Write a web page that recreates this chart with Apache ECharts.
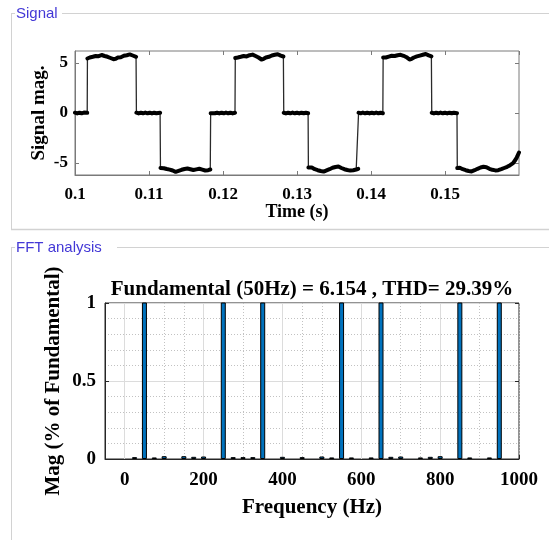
<!DOCTYPE html>
<html>
<head>
<meta charset="utf-8">
<script src="https://cdn.jsdelivr.net/npm/echarts@6/dist/echarts.min.js"></script>
<style>
  html, body { margin: 0; padding: 0; background: #ffffff; }
  #chart { width: 549px; height: 540px; }
</style>
</head>
<body>
<div id="chart"></div>
<script>
// ---- Signal trace: three-level inverter output, one [time (s), magnitude] list per plateau ----
const signalSegments = [
  [[0.1000, 0.03], [0.1003, -0.04], [0.1006, 0.03], [0.1009, -0.03], [0.1012, 0.04], [0.1014, -0.03], [0.10165, 0.02]],
  [[0.10168, 5.45], [0.1020, 5.55], [0.1022, 5.50], [0.1024, 5.62], [0.1026, 5.58], [0.1028, 5.70], [0.1030, 5.64],
   [0.1032, 5.68], [0.1034, 5.74], [0.1036, 5.80], [0.1038, 5.74], [0.1040, 5.70], [0.1042, 5.66], [0.1044, 5.62],
   [0.1046, 5.56], [0.1048, 5.50], [0.1050, 5.44], [0.1052, 5.38], [0.1054, 5.48], [0.1055, 5.42], [0.1057, 5.52],
   [0.1058, 5.55], [0.1060, 5.62], [0.1062, 5.58], [0.1064, 5.68], [0.1066, 5.72], [0.1068, 5.70], [0.1070, 5.78],
   [0.1072, 5.76], [0.1074, 5.86], [0.1076, 5.80], [0.1078, 5.75], [0.1080, 5.68], [0.10825, 5.62]],
  [[0.10830, 0.03], [0.1086, -0.04], [0.1089, 0.03], [0.1092, -0.03], [0.1095, 0.04], [0.1098, -0.03], [0.1101, 0.03],
   [0.1104, -0.04], [0.1107, 0.03], [0.1110, -0.03], [0.11150, 0.02]],
  [[0.11155, -5.50], [0.1118, -5.46], [0.1120, -5.52], [0.1122, -5.56], [0.1124, -5.60], [0.1126, -5.58],
   [0.1128, -5.66], [0.1130, -5.70], [0.1132, -5.75], [0.1134, -5.82], [0.1136, -5.88], [0.1138, -5.80],
   [0.1140, -5.78], [0.1142, -5.70], [0.1144, -5.68], [0.1146, -5.62], [0.1148, -5.60], [0.1150, -5.52],
   [0.1152, -5.55], [0.1154, -5.58], [0.1156, -5.62], [0.1158, -5.66], [0.1160, -5.70], [0.1162, -5.68],
   [0.1164, -5.64], [0.1166, -5.60], [0.1168, -5.58], [0.1170, -5.62], [0.1172, -5.66], [0.1174, -5.70],
   [0.1176, -5.75], [0.1178, -5.76], [0.1180, -5.72], [0.11828, -5.65]],
  [[0.11833, -0.03], [0.1186, 0.04], [0.1189, -0.03], [0.1192, 0.03], [0.1195, -0.04], [0.1198, 0.03], [0.1201, -0.03],
   [0.1204, 0.04], [0.1207, -0.03], [0.1210, 0.03], [0.1213, -0.04], [0.12162, 0.02]],
  [[0.12166, 5.50], [0.1218, 5.48], [0.1220, 5.55], [0.1222, 5.58], [0.1224, 5.62], [0.1226, 5.66], [0.1228, 5.70],
   [0.1230, 5.64], [0.1232, 5.66], [0.1234, 5.72], [0.1236, 5.78], [0.1238, 5.82], [0.1240, 5.84], [0.1242, 5.76],
   [0.1244, 5.70], [0.1246, 5.62], [0.1248, 5.55], [0.1250, 5.44], [0.1252, 5.35], [0.1254, 5.46], [0.1255, 5.42],
   [0.1257, 5.52], [0.1258, 5.55], [0.1260, 5.58], [0.1262, 5.62], [0.1264, 5.70], [0.1266, 5.75], [0.1268, 5.78],
   [0.1270, 5.82], [0.1272, 5.84], [0.1274, 5.88], [0.1276, 5.82], [0.1278, 5.74], [0.1280, 5.70], [0.12816, 5.65]],
  [[0.12821, 0.02], [0.1285, -0.04], [0.1288, 0.03], [0.1291, -0.03], [0.1294, 0.04], [0.1297, -0.03], [0.1300, 0.03],
   [0.1303, -0.04], [0.1306, 0.03], [0.1309, -0.03], [0.1312, 0.03], [0.13150, -0.02]],
  [[0.13154, -5.45], [0.1318, -5.42], [0.1320, -5.45], [0.1322, -5.55], [0.1324, -5.62], [0.1326, -5.66],
   [0.1328, -5.72], [0.1330, -5.76], [0.1332, -5.80], [0.1334, -5.84], [0.1336, -5.86], [0.1338, -5.80],
   [0.1340, -5.74], [0.1342, -5.68], [0.1344, -5.62], [0.1346, -5.54], [0.1348, -5.48], [0.1350, -5.44],
   [0.1352, -5.40], [0.1354, -5.44], [0.1356, -5.35], [0.1358, -5.42], [0.1360, -5.50], [0.1362, -5.56],
   [0.1364, -5.62], [0.1366, -5.66], [0.1368, -5.70], [0.1370, -5.74], [0.1372, -5.76], [0.1374, -5.74],
   [0.1376, -5.72], [0.1378, -5.70], [0.1380, -5.65], [0.13827, -5.58]],
  [[0.13832, 0.03], [0.1386, -0.03], [0.1389, 0.04], [0.1392, -0.03], [0.1395, 0.03], [0.1398, -0.04], [0.1401, 0.03],
   [0.1404, -0.03], [0.1407, 0.04], [0.1410, -0.03], [0.1413, 0.03], [0.14160, -0.02]],
  [[0.14164, 5.55], [0.1418, 5.50], [0.1420, 5.55], [0.1422, 5.60], [0.1424, 5.64], [0.1426, 5.68], [0.1428, 5.72],
   [0.1430, 5.66], [0.1432, 5.70], [0.1434, 5.76], [0.1436, 5.78], [0.1438, 5.84], [0.1440, 5.82], [0.1442, 5.78],
   [0.1444, 5.72], [0.1446, 5.64], [0.1448, 5.58], [0.1450, 5.46], [0.1452, 5.35], [0.1454, 5.46], [0.1455, 5.42],
   [0.1457, 5.50], [0.1458, 5.55], [0.1460, 5.60], [0.1462, 5.66], [0.1464, 5.70], [0.1466, 5.74], [0.1468, 5.78],
   [0.1470, 5.82], [0.1472, 5.86], [0.1474, 5.90], [0.1476, 5.84], [0.1478, 5.76], [0.1480, 5.70], [0.14816, 5.66]],
  [[0.14821, 0.02], [0.1485, -0.04], [0.1488, 0.03], [0.1491, -0.03], [0.1494, 0.04], [0.1497, -0.03], [0.1500, 0.03],
   [0.1503, -0.04], [0.1506, 0.03], [0.1509, -0.03], [0.1512, 0.03], [0.15162, -0.02]],
  [[0.15166, -5.50], [0.1518, -5.44], [0.1520, -5.48], [0.1522, -5.56], [0.1524, -5.62], [0.1526, -5.66],
   [0.1528, -5.72], [0.1530, -5.76], [0.1532, -5.80], [0.1534, -5.84], [0.1536, -5.84], [0.1538, -5.78],
   [0.1540, -5.72], [0.1542, -5.64], [0.1544, -5.58], [0.1546, -5.50], [0.1548, -5.45], [0.1550, -5.40],
   [0.1552, -5.38], [0.1554, -5.36], [0.1556, -5.42], [0.1558, -5.50], [0.1560, -5.58], [0.1562, -5.64],
   [0.1564, -5.68], [0.1566, -5.72], [0.1568, -5.74], [0.1570, -5.74], [0.1572, -5.72], [0.1574, -5.68],
   [0.1576, -5.62], [0.1578, -5.56], [0.1580, -5.50], [0.1582, -5.44], [0.1584, -5.38], [0.1586, -5.30],
   [0.1588, -5.22], [0.1590, -5.12], [0.1592, -5.02], [0.1594, -4.84], [0.1595, -4.70], [0.1597, -4.44],
   [0.1598, -4.25], [0.1600, -3.95]]
];

// ---- Spectrum: frequency bins (Hz) and magnitude relative to the fundamental ----
const fftFreq = [25, 50, 75, 100, 150, 175, 200, 250, 275, 300, 325, 350,
                 400, 450, 500, 525, 550, 575, 625, 650, 675, 700, 750, 775, 800, 850, 875, 925, 950];
const fftMag  = [0.012, 100, 0.010, 0.018, 0.018, 0.014, 0.016, 19.8, 0.012, 0.012, 0.012, 14.2,
                 0.014, 0.012, 0.016, 0.010, 9.0, 0.010, 0.010, 7.6, 0.014, 0.016, 0.010, 0.014, 0.018, 5.8, 0.010, 0.010, 5.2];

// ---- Tick labels ----
const signalTimeTicks = [0.1, 0.11, 0.12, 0.13, 0.14, 0.15];
const signalMagTicks = [-5, 0, 5];
const fftFreqTicks = [0, 200, 400, 600, 800, 1000];
const fftMagTicks = [0, 0.5, 1];

// ---- Text ----
const signalPanelTitle = 'Signal';
const fftPanelTitle = 'FFT analysis';
const fftTitle = 'Fundamental (50Hz) = 6.154 , THD= 29.39%';

const serif = 'Liberation Serif';
const sans = 'Liberation Sans';
const boldText = { fontFamily: serif, fontWeight: 'bold', color: '#000000' };

// Continuous trace for the switching edges, and a broken one for the noisy plateaus.
const traceAll = [];
const tracePlateaus = [];
signalSegments.forEach((seg, i) => {
  seg.forEach(p => { traceAll.push(p); tracePlateaus.push(p); });
  if (i < signalSegments.length - 1) tracePlateaus.push('-');
});

const spectrum = fftFreq.map((f, i) => [f, fftMag[i]]);
// Solid major grid lines on the labelled frequencies inside the plot box
const fftMajorGrid = fftFreqTicks.filter(f => f < 1000).map(f => ({ xAxis: f }));

const panelLine = '#d2d2d2';
const sigAxis = '#7a7a7a';
const fftAxis = '#262626';
const chart = echarts.init(document.getElementById('chart'), null, { renderer: 'canvas' });

chart.setOption({
  animation: false,
  backgroundColor: '#ffffff',
  grid: [
    { left: 75, top: 51, width: 444, height: 124, show: true, borderColor: sigAxis, borderWidth: 1 },
    { left: 105, top: 303, width: 414, height: 156, show: true, borderColor: fftAxis, borderWidth: 1 }
  ],
  xAxis: [
    { // signal time axis
      gridIndex: 0, type: 'value', position: 'bottom', min: 0.1, max: 0.16, interval: 0.01,
      axisLine: { onZero: false, lineStyle: { color: sigAxis } },
      axisTick: { inside: true, length: 4, lineStyle: { color: sigAxis } },
      axisLabel: Object.assign({ fontSize: 17, margin: 11, showMaxLabel: false,
        formatter: v => signalTimeTicks.find(t => Math.abs(t - v) < 1e-6) !== undefined ? String(+v.toFixed(2)) : '' }, boldText),
      splitLine: { show: false },
      name: 'Time (s)', nameLocation: 'middle', nameGap: 28, nameMoveOverlap: false,
      nameTextStyle: Object.assign({ fontSize: 18 }, boldText)
    },
    { // signal top edge ticks
      gridIndex: 0, type: 'value', position: 'top', min: 0.1, max: 0.16, interval: 0.01,
      axisLine: { show: false, onZero: false },
      axisTick: { inside: true, length: 4, lineStyle: { color: sigAxis } },
      axisLabel: { show: false }, splitLine: { show: false }
    },
    { // spectrum minor grid every 50 Hz
      gridIndex: 1, type: 'value', position: 'bottom', min: -50, max: 1000, interval: 50,
      axisLine: { show: false, onZero: false }, axisTick: { show: false }, axisLabel: { show: false },
      splitLine: { show: true, lineStyle: { color: '#c2c2c2', type: [1, 2], width: 1 } }
    },
    { // spectrum frequency axis
      gridIndex: 1, type: 'value', position: 'bottom', min: -50, max: 1000,
      axisLine: { onZero: false, lineStyle: { color: fftAxis } },
      axisTick: { inside: true, length: 4, customValues: fftFreqTicks, lineStyle: { color: fftAxis } },
      axisLabel: Object.assign({ fontSize: 19, margin: 12, customValues: fftFreqTicks, formatter: v => String(v) }, boldText),
      splitLine: { show: false },
      name: 'Frequency (Hz)', nameLocation: 'middle', nameGap: 38, nameMoveOverlap: false,
      nameTextStyle: Object.assign({ fontSize: 21 }, boldText)
    }
  ],
  yAxis: [
    { // signal magnitude axis
      gridIndex: 0, type: 'value', position: 'left', min: -6.2, max: 6.2,
      axisLine: { onZero: false, lineStyle: { color: sigAxis } },
      axisTick: { inside: true, length: 4, customValues: signalMagTicks, lineStyle: { color: sigAxis } },
      axisLabel: Object.assign({ fontSize: 17, margin: 7, customValues: signalMagTicks }, boldText),
      splitLine: { show: false },
      name: 'Signal mag.', nameLocation: 'middle', nameGap: 26, nameMoveOverlap: false,
      nameTextStyle: Object.assign({ fontSize: 19 }, boldText)
    },
    { // signal right edge ticks
      gridIndex: 0, type: 'value', position: 'right', min: -6.2, max: 6.2,
      axisLine: { show: false, onZero: false },
      axisTick: { inside: true, length: 4, customValues: signalMagTicks, lineStyle: { color: sigAxis } },
      axisLabel: { show: false }, splitLine: { show: false }
    },
    { // spectrum magnitude axis
      gridIndex: 1, type: 'value', position: 'left', min: 0, max: 1, interval: 0.5,
      axisLine: { onZero: false, lineStyle: { color: fftAxis } },
      axisTick: { inside: true, length: 4, lineStyle: { color: fftAxis } },
      axisLabel: Object.assign({ fontSize: 19, margin: 9,
        formatter: v => fftMagTicks.indexOf(v) >= 0 ? String(v) : '' }, boldText),
      splitLine: { show: true, lineStyle: { color: '#dcdcdc', width: 1 } },
      minorTick: { show: false, splitNumber: 5 },
      minorSplitLine: { show: true, lineStyle: { color: '#c2c2c2', type: [1, 2], width: 1 } },
      name: 'Mag (% of Fundamental)', nameLocation: 'middle', nameGap: 41, nameMoveOverlap: false,
      nameTextStyle: Object.assign({ fontSize: 21 }, boldText)
    },
    { // spectrum right edge ticks
      gridIndex: 1, type: 'value', position: 'right', min: 0, max: 1, interval: 0.5,
      axisLine: { show: false, onZero: false },
      axisTick: { inside: true, length: 4, lineStyle: { color: fftAxis } },
      axisLabel: { show: false }, splitLine: { show: false }
    }
  ],
  series: [
    {
      type: 'line', xAxisIndex: 0, yAxisIndex: 0, data: traceAll,
      showSymbol: false, symbol: 'none', lineStyle: { color: '#2a2a2a', width: 1.3 }, z: 2
    },
    {
      type: 'line', xAxisIndex: 0, yAxisIndex: 0, data: tracePlateaus, connectNulls: false,
      showSymbol: false, symbol: 'none', lineStyle: { color: '#000000', width: 4, join: 'round', cap: 'round' }, z: 3
    },
    {
      type: 'bar', xAxisIndex: 3, yAxisIndex: 2, data: spectrum, barWidth: 5, clip: true,
      itemStyle: { color: '#0072BD', borderColor: '#000000', borderWidth: 1 }, z: 3,
      markLine: {
        silent: true, symbol: 'none', label: { show: false }, animation: false,
        lineStyle: { color: '#dcdcdc', type: 'solid', width: 1 },
        data: fftMajorGrid, z: 1
      }
    }
  ],
  graphic: [
    // Signal group box
    { type: 'line', shape: { x1: 11, y1: 13.5, x2: 15, y2: 13.5 }, style: { stroke: panelLine, lineWidth: 1 } },
    { type: 'line', shape: { x1: 62, y1: 13.5, x2: 549, y2: 13.5 }, style: { stroke: panelLine, lineWidth: 1 } },
    { type: 'line', shape: { x1: 11.5, y1: 13, x2: 11.5, y2: 229 }, style: { stroke: panelLine, lineWidth: 1 } },
    { type: 'line', shape: { x1: 11, y1: 229.5, x2: 549, y2: 229.5 }, style: { stroke: panelLine, lineWidth: 1.5 } },
    { type: 'text', x: 16, y: 14, style: { text: signalPanelTitle, font: '15px "' + sans + '"', fill: '#4338d6', textAlign: 'left', textVerticalAlign: 'middle' } },
    // FFT group box
    { type: 'line', shape: { x1: 11, y1: 247.5, x2: 15, y2: 247.5 }, style: { stroke: panelLine, lineWidth: 1 } },
    { type: 'line', shape: { x1: 117, y1: 247.5, x2: 549, y2: 247.5 }, style: { stroke: panelLine, lineWidth: 1 } },
    { type: 'line', shape: { x1: 11.5, y1: 247, x2: 11.5, y2: 540 }, style: { stroke: panelLine, lineWidth: 1 } },
    { type: 'text', x: 16, y: 248, style: { text: fftPanelTitle, font: '15px "' + sans + '"', fill: '#4338d6', textAlign: 'left', textVerticalAlign: 'middle' } },
    // Spectrum heading
    { type: 'text', x: 312, y: 290, style: { text: fftTitle, font: 'bold 21px "' + serif + '"', fill: '#000000', textAlign: 'center', textVerticalAlign: 'middle' } }
  ]
});
</script>
</body>
</html>
